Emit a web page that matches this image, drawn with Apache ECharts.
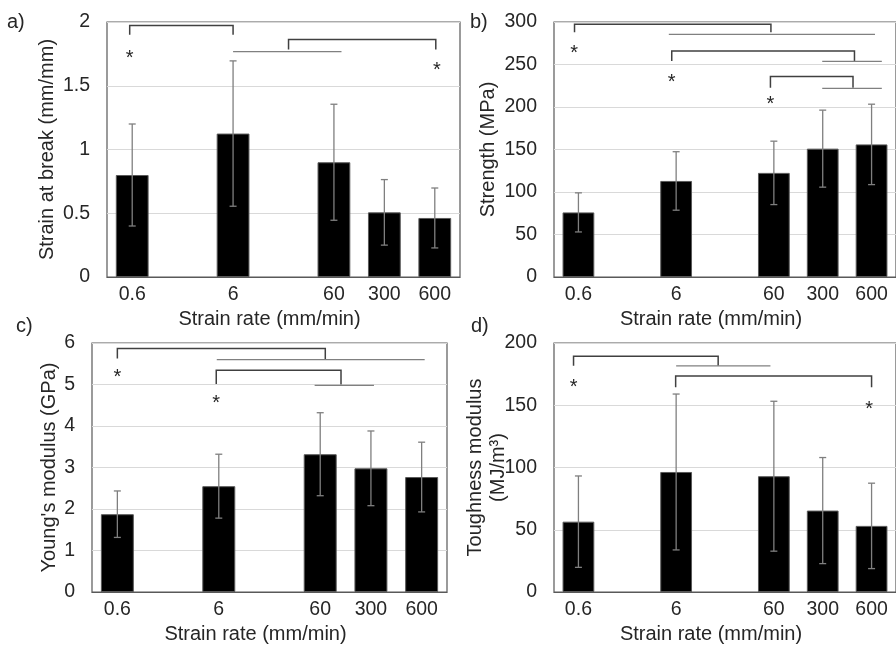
<!DOCTYPE html>
<html>
<head>
<meta charset="utf-8">
<script src="https://cdn.jsdelivr.net/npm/echarts@6/dist/echarts.min.js"></script>
<style>
  html, body { margin: 0; padding: 0; background: #fff; }
  #chart { width: 896px; height: 645px; }
</style>
</head>
<body>
<div id="chart"></div>
<script>
// Strain-rate slots along the x axis (blank slots keep the log-like spacing)
const categories = ['0.6', '', '6', '', '60', '300', '600'];

// a) strain at break (mm/mm): mean and standard deviation
const strainMean = [0.80, null, 1.125, null, 0.90, 0.507, 0.463];
const strainSd   = [0.40, null, 0.57,  null, 0.455, 0.257, 0.235];
// b) strength (MPa)
const strengthMean = [76, null, 113, null, 122.5, 151, 156];
const strengthSd   = [23, null, 34.4, null, 37.3, 45.3, 47.3];
// c) Young's modulus (GPa)
const modulusMean = [1.875, null, 2.55, null, 3.32, 2.98, 2.77];
const modulusSd   = [0.56,  null, 0.77, null, 1.0,  0.9,  0.84];
// d) toughness modulus (MJ/m3)
const toughMean = [56.5, null, 96.4, null, 93.0, 65.4, 53.1];
const toughSd   = [36.7, null, 62.6, null, 60.2, 42.6, 34.3];

// Significance brackets: [fromSlot, toSlot, topValue, leftLegEnd, rightLegEnd]
const bracketsA = [[-0.05, 2.0, 1.972, 1.90, 1.90], [3.1, 6.02, 1.862, 1.784, 1.784]];
const bracketsB = [[-0.08, 3.94, 297.3, 287.9, 287.9], [1.91, 5.65, 265.8, 254.1, 254.1], [3.93, 5.62, 236.0, 222.6, 222.6]];
const bracketsC = [[0.0, 4.10, 5.866, 5.625, 5.60], [1.95, 4.41, 5.343, 5.015, 5.0]];
const bracketsD = [[-0.1, 2.86, 189.3, 181.7, 181.7], [1.99, 6.0, 173.4, 164.5, 164.5]];
// Group lines joining the compared rates: [fromSlot, toSlot, value]
const groupsA = [[2.0, 4.15, 1.768]];
const groupsB = [[1.85, 6.07, 285.5], [4.99, 6.21, 253.7], [4.99, 6.21, 221.9]];
const groupsC = [[1.96, 6.06, 5.60], [3.89, 5.06, 4.98]];
const groupsD = [[2.0, 3.93, 181.7]];
// Asterisks: [slot, value]
const starsA = [[-0.05, 1.755], [6.04, 1.66]];
const starsB = [[-0.09, 268.6], [1.91, 234.9], [3.93, 209.3]];
const starsC = [[0.0, 5.30], [1.95, 4.67]];
const starsD = [[-0.1, 168.2], [5.95, 150.5]];

// Axis ranges
const yRanges = [[0, 2, 0.5], [0, 300, 50], [0, 6, 1], [0, 200, 50]];
const yNames = ['Strain at break (mm/mm)', 'Strength (MPa)', "Young's modulus (GPa)", 'Toughness modulus\n(MJ/m³)'];
const xName = 'Strain rate (mm/min)';
const panelLabels = ['a)', 'b)', 'c)', 'd)'];

const FONT = '"Liberation Sans", Arial, sans-serif';
const TEXT = '#262626';

const panels = [
  { mean: strainMean, sd: strainSd, br: bracketsA, gr: groupsA, st: starsA },
  { mean: strengthMean, sd: strengthSd, br: bracketsB, gr: groupsB, st: starsB },
  { mean: modulusMean, sd: modulusSd, br: bracketsC, gr: groupsC, st: starsC },
  { mean: toughMean, sd: toughSd, br: bracketsD, gr: groupsD, st: starsD }
];

const grids = [
  { left: 107, top: 22, width: 353, height: 255 },
  { left: 554, top: 22, width: 348, height: 255 },
  { left: 92, top: 343, width: 355, height: 256 },
  { left: 554, top: 343, width: 350, height: 256 }
];
const yNameGaps = [48, 54, 31, 44];
const labelPos = [[7, 12], [470, 12], [16, 316], [471, 316]];

function renderErr(params, api) {
  const x = api.value(0), m = api.value(1), s = api.value(2);
  const top = api.coord([x, m + s]);
  const bot = api.coord([x, m - s]);
  const w = 3.5;
  const style = { stroke: '#7f7f7f', lineWidth: 1.3 };
  return {
    type: 'group',
    children: [
      { type: 'line', shape: { x1: top[0], y1: top[1], x2: bot[0], y2: bot[1] }, style },
      { type: 'line', shape: { x1: top[0] - w, y1: top[1], x2: top[0] + w, y2: top[1] }, style },
      { type: 'line', shape: { x1: bot[0] - w, y1: bot[1], x2: bot[0] + w, y2: bot[1] }, style }
    ]
  };
}

function renderBracket(params, api) {
  const a = api.coord([api.value(0), api.value(2)]);
  const b = api.coord([api.value(1), api.value(2)]);
  const l = api.coord([api.value(0), api.value(3)]);
  const r = api.coord([api.value(1), api.value(4)]);
  return {
    type: 'polyline',
    shape: { points: [l, a, b, r] },
    style: { stroke: '#404040', lineWidth: 1.5, fill: null }
  };
}

function renderGroup(params, api) {
  const a = api.coord([api.value(0), api.value(2)]);
  const b = api.coord([api.value(1), api.value(2)]);
  return {
    type: 'line',
    shape: { x1: a[0], y1: a[1], x2: b[0], y2: b[1] },
    style: { stroke: '#808080', lineWidth: 1.2 }
  };
}

function renderStar(params, api) {
  const p = api.coord([api.value(0), api.value(1)]);
  return {
    type: 'text',
    x: p[0], y: p[1] + 5,
    style: { text: '*', fontSize: 20, fontFamily: FONT, fill: TEXT, align: 'center', verticalAlign: 'middle' }
  };
}

const option = {
  backgroundColor: '#fff',
  animation: false,
  title: panelLabels.map((t, i) => ({
    text: t, left: labelPos[i][0], top: labelPos[i][1], padding: 0,
    textStyle: { fontSize: 20, fontWeight: 'normal', color: TEXT, fontFamily: FONT }
  })),
  grid: grids.map(g => Object.assign({ show: true, borderColor: '#595959', borderWidth: 1.2, backgroundColor: 'transparent' }, g)),
  xAxis: [],
  yAxis: [],
  series: []
};

panels.forEach((p, i) => {
  option.xAxis.push({
    type: 'category', gridIndex: i, data: categories,
    axisLine: { show: true, lineStyle: { color: '#595959', width: 1.2 } },
    axisTick: { show: false },
    axisLabel: { interval: 0, margin: 8, fontSize: 19.5, color: TEXT, fontFamily: FONT },
    splitLine: { show: false },
    name: xName, nameLocation: 'middle', nameGap: 32, nameMoveOverlap: false,
    nameTextStyle: { fontSize: 20, color: TEXT, fontFamily: FONT, padding: [0, 28, 0, 0] }
  });
  // slot-unit axis for error bars and annotations
  option.xAxis.push({ type: 'value', gridIndex: i, min: -0.5, max: 6.5, show: false });
  option.yAxis.push({
    type: 'value', gridIndex: i,
    min: yRanges[i][0], max: yRanges[i][1], interval: yRanges[i][2],
    axisLine: { show: false }, axisTick: { show: false },
    axisLabel: { margin: 17, fontSize: 19.5, color: TEXT, fontFamily: FONT },
    splitLine: { show: true, lineStyle: { color: '#d9d9d9', width: 1.2 } },
    name: yNames[i], nameLocation: 'middle', nameGap: yNameGaps[i], nameMoveOverlap: false,
    nameTextStyle: { fontSize: 20, color: TEXT, fontFamily: FONT, lineHeight: 23 }
  });

  const xCat = i * 2, xVal = i * 2 + 1;
  option.series.push({
    type: 'bar', xAxisIndex: xCat, yAxisIndex: i,
    data: p.mean, barWidth: '65%',
    itemStyle: { color: '#000', borderColor: '#595959', borderWidth: 1 },
    z: 2
  });
  const errData = p.mean.map((m, k) => m == null ? null : [k, m, p.sd[k]]).filter(Boolean);
  option.series.push({
    type: 'custom', xAxisIndex: xVal, yAxisIndex: i, data: errData,
    renderItem: renderErr, clip: false, z: 3, silent: true
  });
  option.series.push({
    type: 'custom', xAxisIndex: xVal, yAxisIndex: i, data: p.br,
    renderItem: renderBracket, clip: false, z: 4, silent: true
  });
  option.series.push({
    type: 'custom', xAxisIndex: xVal, yAxisIndex: i, data: p.gr,
    renderItem: renderGroup, clip: false, z: 4, silent: true
  });
  option.series.push({
    type: 'custom', xAxisIndex: xVal, yAxisIndex: i, data: p.st,
    renderItem: renderStar, clip: false, z: 4, silent: true
  });
});

const chart = echarts.init(document.getElementById('chart'), null, { renderer: 'canvas' });
chart.setOption(option);
</script>
</body>
</html>
